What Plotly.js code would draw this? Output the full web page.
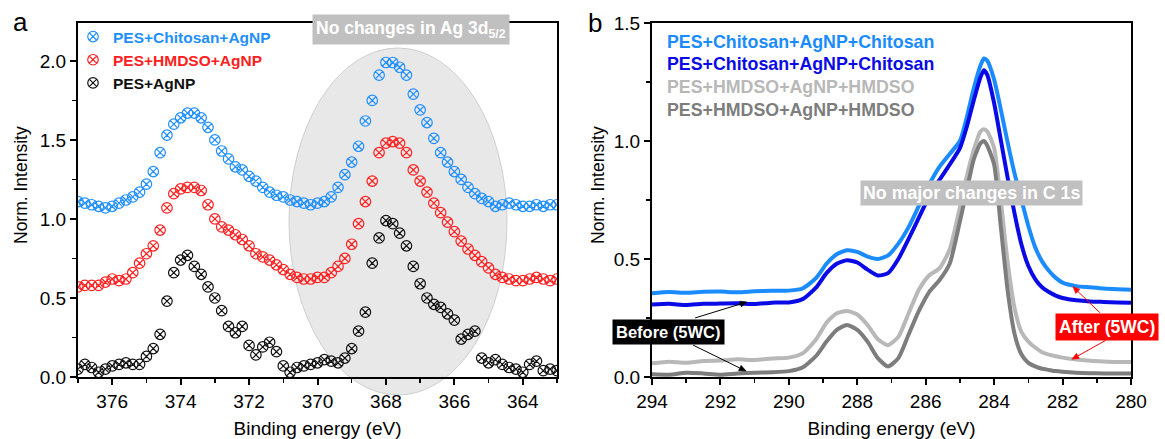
<!DOCTYPE html>
<html>
<head>
<meta charset="utf-8">
<script src="https://cdn.plot.ly/plotly-3.0.1.min.js"></script>
<style>html,body{margin:0;padding:0;background:#fff;}</style>
</head>
<body>
<div id="chart" style="width:1165px;height:439px;"></div>
<script>
// ---------- Panel a : Ag 3d ----------
const energyAg = [377.0,376.8,376.6,376.4,376.2,376.0,375.8,375.6,375.4,375.2,
  375.0,374.8,374.6,374.4,374.2,374.0,373.8,373.6,373.4,373.2,
  373.0,372.8,372.6,372.4,372.2,372.0,371.8,371.6,371.4,371.2,
  371.0,370.8,370.6,370.4,370.2,370.0,369.8,369.6,369.4,369.2,
  369.0,368.8,368.6,368.4,368.2,368.0,367.8,367.6,367.4,367.2,
  367.0,366.8,366.6,366.4,366.2,366.0,365.8,365.6,365.4,365.2,
  365.0,364.8,364.6,364.4,364.2,364.0,363.8,363.6,363.4,363.2,363.0];
const agChitosan = [1.11,1.10,1.09,1.08,1.07,1.08,1.10,1.12,1.14,1.17,
  1.22,1.30,1.42,1.53,1.60,1.64,1.67,1.67,1.64,1.58,
  1.50,1.43,1.38,1.33,1.31,1.27,1.24,1.20,1.17,1.15,
  1.14,1.12,1.11,1.10,1.09,1.10,1.11,1.14,1.20,1.28,
  1.36,1.46,1.62,1.75,1.91,1.99,1.99,1.96,1.91,1.79,
  1.69,1.61,1.51,1.42,1.36,1.30,1.25,1.20,1.16,1.13,
  1.11,1.08,1.09,1.10,1.09,1.08,1.08,1.09,1.08,1.09,1.09];
const agHMDSO = [0.57,0.58,0.58,0.58,0.60,0.62,0.61,0.62,0.66,0.72,
  0.78,0.83,0.93,1.07,1.16,1.19,1.20,1.20,1.18,1.09,
  1.00,0.95,0.93,0.90,0.87,0.83,0.78,0.76,0.74,0.71,
  0.68,0.65,0.63,0.62,0.62,0.63,0.63,0.66,0.70,0.75,
  0.84,0.97,1.11,1.24,1.42,1.48,1.49,1.48,1.42,1.31,
  1.24,1.17,1.10,1.04,0.98,0.92,0.86,0.81,0.77,0.73,
  0.69,0.65,0.63,0.62,0.61,0.61,0.62,0.63,0.62,0.61,0.62];
const agBare = [0.05,0.08,0.06,0.03,0.05,0.07,0.08,0.09,0.08,0.08,
  0.13,0.18,0.27,0.48,0.66,0.74,0.77,0.70,0.65,0.57,
  0.50,0.42,0.32,0.28,0.32,0.20,0.14,0.19,0.22,0.16,
  0.07,0.03,0.06,0.07,0.08,0.09,0.11,0.10,0.09,0.12,
  0.18,0.29,0.41,0.72,0.88,0.99,0.97,0.91,0.83,0.70,
  0.59,0.50,0.46,0.44,0.40,0.36,0.24,0.27,0.29,0.12,
  0.09,0.11,0.08,0.06,0.05,0.03,0.08,0.10,0.04,0.05,0.04];
const agNames = ['PES+Chitosan+AgNP','PES+HMDSO+AgNP','PES+AgNP'];
const agColors = ['#1f8fff','#ff2020','#111111'];

// ---------- Panel b : C 1s ----------
const energyC = [294,293.5,293,292.5,292,291.5,291,290.5,290,289.6,
  289.2,288.9,288.6,288.3,288.0,287.7,287.4,287.1,286.8,286.5,
  286.2,285.9,285.6,285.3,285.0,284.8,284.6,284.4,284.3,284.2,
  284.0,283.8,283.6,283.4,283.2,283.0,282.8,282.6,282.4,282.2,
  282.0,281.6,281.2,280.8,280.4,280.0];
const cChitosanAfter = [0.355,0.36,0.357,0.361,0.362,0.359,0.363,0.365,0.366,0.375,
  0.42,0.48,0.52,0.537,0.53,0.51,0.50,0.515,0.565,0.635,
  0.725,0.815,0.89,0.945,1.0,1.1,1.22,1.32,1.35,1.34,
  1.26,1.13,0.99,0.86,0.75,0.64,0.55,0.49,0.45,0.42,
  0.40,0.385,0.38,0.375,0.372,0.37];
const cChitosanBefore = [0.307,0.31,0.305,0.31,0.311,0.312,0.309,0.315,0.316,0.33,
  0.38,0.44,0.48,0.495,0.485,0.455,0.43,0.44,0.50,0.585,
  0.675,0.765,0.835,0.9,0.97,1.06,1.17,1.27,1.30,1.28,
  1.16,1.0,0.84,0.69,0.56,0.47,0.415,0.38,0.36,0.345,
  0.335,0.325,0.32,0.318,0.316,0.315];
const cHMDSOAfter = [0.058,0.065,0.06,0.068,0.07,0.075,0.072,0.078,0.082,0.10,
  0.16,0.23,0.27,0.28,0.265,0.22,0.16,0.135,0.17,0.27,
  0.37,0.43,0.46,0.54,0.72,0.85,0.96,1.04,1.05,1.04,
  0.97,0.74,0.48,0.29,0.19,0.15,0.125,0.105,0.095,0.088,
  0.082,0.074,0.069,0.066,0.064,0.064];
const cHMDSOBefore = [0.012,0.01,0.018,0.015,0.01,0.015,0.018,0.02,0.025,0.04,
  0.09,0.15,0.20,0.22,0.20,0.15,0.08,0.045,0.08,0.18,
  0.28,0.36,0.41,0.48,0.66,0.79,0.92,0.99,1.0,0.98,
  0.90,0.63,0.36,0.18,0.095,0.06,0.045,0.035,0.03,0.025,
  0.022,0.018,0.016,0.015,0.015,0.015];
const cNames = ['PES+Chitosan+AgNP+Chitosan','PES+Chitosan+AgNP+Chitosan','PES+HMDSO+AgNP+HMDSO','PES+HMDSO+AgNP+HMDSO'];
const cColors = ['#1a8cff','#0a0ae6','#b8b8b8','#7d7d7d'];

// Axis titles
const xTitle = 'Binding energy (eV)';
const yTitle = 'Norm. Intensity';

// ---------- traces ----------
const agSeries = [agChitosan, agHMDSO, agBare];
const traces = [];
agSeries.forEach((ys, i) => {
  traces.push({
    x: energyAg, y: ys, type: 'scatter', mode: 'markers',
    name: '<b><span style="color:' + agColors[i] + '">' + agNames[i] + '</span></b>',
    marker: {symbol: 'circle-x-open', size: 10.5, color: agColors[i], line: {width: 1.2, color: agColors[i]}},
    xaxis: 'x', yaxis: 'y', legend: 'legend', cliponaxis: true
  });
});
const cSeries = [cChitosanAfter, cChitosanBefore, cHMDSOAfter, cHMDSOBefore];
const drawOrder = [2, 3, 0, 1];
drawOrder.forEach(i => {
  traces.push({
    x: energyC, y: cSeries[i], type: 'scatter', mode: 'lines',
    line: {color: cColors[i], width: 4, shape: 'spline', smoothing: 0.6},
    xaxis: 'x2', yaxis: 'y2', showlegend: false, name: cNames[i]
  });
});

const PW = 1165 - 78 - 34, PH = 439 - 23 - 62;
const px = v => (v - 78) / PW;
const py = v => (377 - v) / PH;

const axisCommon = {
  showline: true, linewidth: 2, linecolor: 'black', mirror: true,
  ticks: 'outside', ticklen: 6, tickwidth: 2, tickcolor: 'black',
  showgrid: false, zeroline: false, automargin: false,
  tickfont: {size: 19, color: 'black'}
};

// ---------- pointer arrows (as shapes anchored at the curve, offsets in px) ----------
const arrows = [
  {x:291.22, y:0.318, dx:-52, dy:16, c:'black'},
  {x:291.25, y:0.025, dx:-53, dy:-26, c:'black'},
  {x:281.70, y:0.383, dx:27, dy:26, c:'#ff0000'},
  {x:281.73, y:0.075, dx:34, dy:-19, c:'#ff0000'}
];
const shapes = [{
  type: 'circle', xref: 'paper', yref: 'paper', layer: 'below',
  x0: px(289), x1: px(507), y0: py(395), y1: py(48),
  fillcolor: '#e8e8e8', line: {color: '#cfcfcf', width: 1}
}];
arrows.forEach(a => {
  // tail offset (screen px, y down) -> pixel-up coords
  const tx = a.dx, ty = -a.dy;
  const len = Math.hypot(tx, ty);
  const ux = -tx / len, uy = -ty / len;       // unit vector tail -> head
  const L = 7, W = 3;
  const bx = -ux * L, by = -uy * L;            // base centre of head
  const p1x = bx - uy * W, p1y = by + ux * W;
  const p2x = bx + uy * W, p2y = by - ux * W;
  shapes.push({
    type: 'line', xref: 'x2', yref: 'y2', xsizemode: 'pixel', ysizemode: 'pixel',
    xanchor: a.x, yanchor: a.y, x0: tx, y0: ty, x1: bx, y1: by,
    line: {color: a.c, width: 1}
  });
  shapes.push({
    type: 'path', xref: 'x2', yref: 'y2', xsizemode: 'pixel', ysizemode: 'pixel',
    xanchor: a.x, yanchor: a.y,
    path: 'M0,0 L' + p1x.toFixed(2) + ',' + p1y.toFixed(2) + ' L' + p2x.toFixed(2) + ',' + p2y.toFixed(2) + ' Z',
    fillcolor: a.c, line: {color: a.c, width: 0.5}
  });
});

const annotations = [
  {xref:'paper', yref:'paper', x:px(411), y:py(29.5), xanchor:'center', yanchor:'middle', showarrow:false,
   text:'<b>No changes in Ag 3d<sub>5/2</sub></b>', bgcolor:'#c0c0c0', borderpad:3,
   font:{size:17.5, color:'white'}},
  {xref:'paper', yref:'paper', x:px(971.5), y:py(193), xanchor:'center', yanchor:'middle', showarrow:false,
   text:'<b>No major changes in C 1s</b>', bgcolor:'#c0c0c0', borderpad:2,
   font:{size:17.8, color:'white'}},
  {xref:'paper', yref:'paper', x:px(668), y:py(332), xanchor:'center', yanchor:'middle', showarrow:false,
   text:'<b>Before (5WC)</b>', bgcolor:'black', borderpad:3,
   font:{size:16.5, color:'white'}},
  {xref:'paper', yref:'paper', x:px(1107), y:py(327), xanchor:'center', yanchor:'middle', showarrow:false,
   text:'<b>After (5WC)</b>', bgcolor:'#ff0000', borderpad:3,
   font:{size:17.5, color:'white'}},
  {xref:'paper', yref:'paper', x:px(20), y:py(22), xanchor:'center', yanchor:'middle', showarrow:false,
   text:'a', font:{size:26, color:'black'}},
  {xref:'paper', yref:'paper', x:px(595), y:py(23), xanchor:'center', yanchor:'middle', showarrow:false,
   text:'b', font:{size:26, color:'black'}},
  {xref:'paper', yref:'paper', x:px(21), y:py(185), xanchor:'center', yanchor:'middle', showarrow:false,
   text:yTitle, textangle:-90, font:{size:17.5, color:'black'}},
  {xref:'paper', yref:'paper', x:px(598), y:py(185), xanchor:'center', yanchor:'middle', showarrow:false,
   text:yTitle, textangle:-90, font:{size:17.5, color:'black'}}
];
const legendRowsY = [42, 64, 87, 110];
cNames.forEach((n, i) => annotations.push({
  xref:'paper', yref:'paper', x:px(665), y:py(legendRowsY[i]), xanchor:'left', yanchor:'middle',
  showarrow:false, text:'<b>' + n + '</b>', font:{size:17.8, color:cColors[i]}
}));

const layout = {
  width: 1165, height: 439,
  margin: {l: 78, r: 34, t: 23, b: 62, pad: 0},
  paper_bgcolor: 'white', plot_bgcolor: 'rgba(0,0,0,0)',
  font: {family: '"Liberation Sans", Arial, sans-serif', color: 'black'},
  showlegend: true,
  legend: {x: px(73), y: py(20), xanchor: 'left', yanchor: 'top', bgcolor: 'rgba(0,0,0,0)',
           font: {size: 15.5}, itemwidth: 30, tracegroupgap: 0},
  xaxis: Object.assign({}, axisCommon, {
    domain: [0, px(557)], range: [377, 363], tick0: 364, dtick: 2,
    minor: {dtick: 1, ticklen: 4, tickwidth: 1.5, ticks: 'outside', tickcolor: 'black'},
    title: {text: xTitle, font: {size: 19}, standoff: 12}
  }),
  yaxis: Object.assign({}, axisCommon, {
    domain: [0, 1], range: [0, 2.24], tick0: 0, dtick: 0.5, tickformat: '.1f',
    minor: {dtick: 0.25, ticklen: 4, tickwidth: 1.5, ticks: 'outside', tickcolor: 'black'}
  }),
  xaxis2: Object.assign({}, axisCommon, {
    domain: [px(652), 1], range: [294, 280], tick0: 280, dtick: 2, anchor: 'y2',
    minor: {dtick: 1, ticklen: 4, tickwidth: 1.5, ticks: 'outside', tickcolor: 'black'},
    title: {text: xTitle, font: {size: 19}, standoff: 12}
  }),
  yaxis2: Object.assign({}, axisCommon, {
    domain: [0, 1], range: [0, 1.5], tick0: 0, dtick: 0.5, tickformat: '.1f', anchor: 'x2',
    minor: {dtick: 0.25, ticklen: 4, tickwidth: 1.5, ticks: 'outside', tickcolor: 'black'}
  }),
  shapes: shapes,
  annotations: annotations
};

Plotly.newPlot('chart', traces, layout, {displayModeBar: false, staticPlot: true});
</script>
</body>
</html>
